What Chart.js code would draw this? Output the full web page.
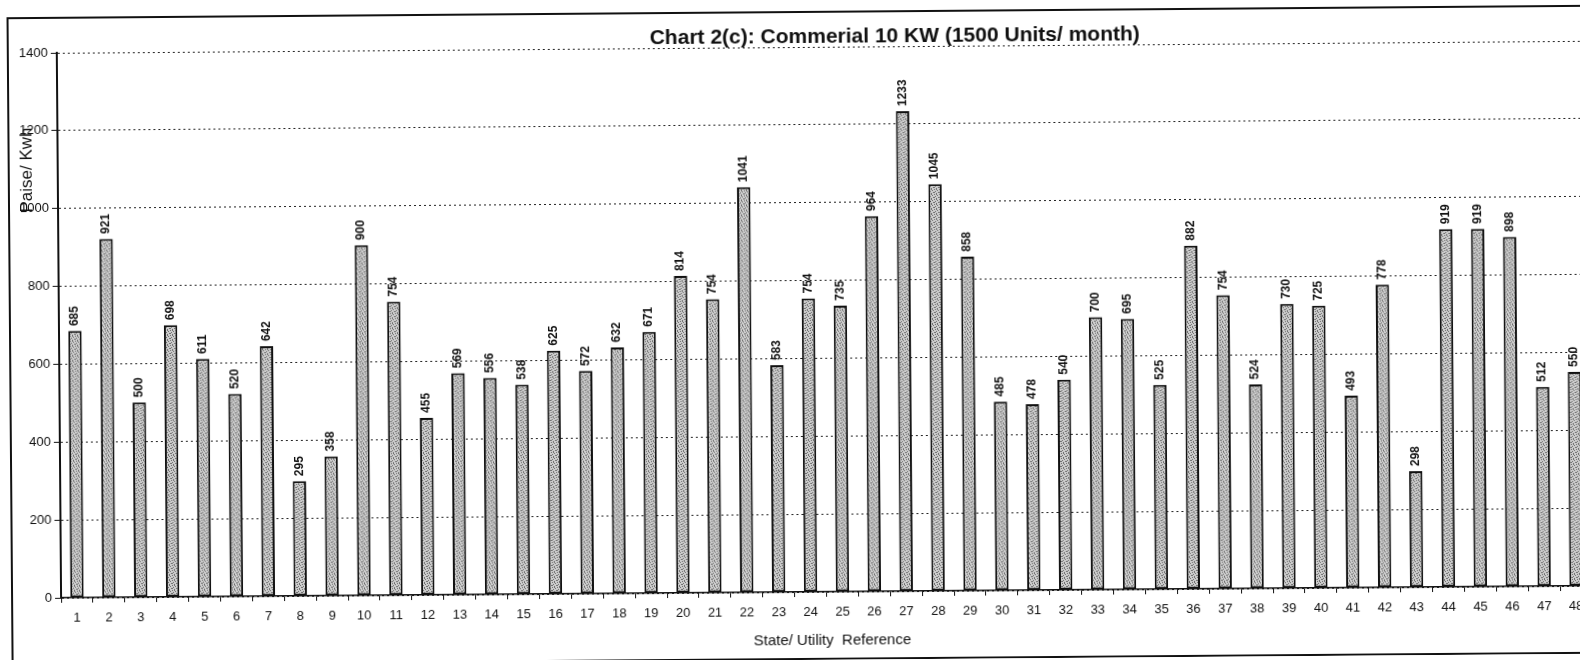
<!DOCTYPE html>
<html lang="en">
<head>
<meta charset="UTF-8">
<title>Chart 2(c): Commerial 10 KW</title>
<style>
html, body { margin:0; padding:0; background:#fff; overflow:hidden; }
/* the scan is slightly tilted */
#wrap { width:1600px; height:660px; transform: rotate(-0.45deg); transform-origin: 800px 330px; }
</style>
</head>
<body>
<div id="wrap"><canvas id="chart" width="1600" height="660"></canvas></div>

<script src="https://cdn.jsdelivr.net/npm/chart.js"></script>
<script>
// data
const refs = ['1','2','3','4','5','6','7','8','9','10','11','12','13','14','15','16',
  '17','18','19','20','21','22','23','24','25','26','27','28','29','30','31','32',
  '33','34','35','36','37','38','39','40','41','42','43','44','45','46','47','48'];
const paise = [685, 921, 500, 698, 611, 520, 642, 295, 358, 900, 754, 455, 569, 556, 538, 625,
  572, 632, 671, 814, 754, 1041, 583, 754, 735, 964, 1233, 1045, 858, 485, 478, 540,
  700, 695, 525, 882, 754, 524, 730, 725, 493, 778, 298, 919, 919, 898, 512, 550];
const yTicks = [0, 200, 400, 600, 800, 1000, 1200, 1400];

const chartTitle = 'Chart 2(c): Commerial 10 KW (1500 Units/ month)';
const xTitle = 'State/ Utility  Reference';
const yTitle = 'Paise/ Kwh';

const FONT = '"Liberation Sans", Arial, sans-serif';
const ink = '#111';

// dotted grey fill like the printed bars
function stipple(ctx) {
  const c = document.createElement('canvas');
  c.width = 5; c.height = 5;
  const g = c.getContext('2d');
  g.fillStyle = '#cdcdcd';
  g.fillRect(0, 0, 5, 5);
  g.fillStyle = '#6f6f6f';
  [[0, 0], [3, 1], [1, 2], [4, 3], [2, 4], [2, 0], [0, 3]].forEach(p => g.fillRect(p[0], p[1], 1, 1));
  return ctx.createPattern(c, 'repeat');
}

// frame, titles and the value labels
const decor = {
  id: 'decor',
  beforeDraw(chart) {
    const ctx = chart.ctx;
    ctx.save();
    ctx.strokeStyle = ink;
    ctx.lineWidth = 2;
    ctx.beginPath();
    ctx.moveTo(10, 660); ctx.lineTo(10, 12); ctx.lineTo(1600, 12);
    ctx.moveTo(10, 659); ctx.lineTo(1600, 659);
    ctx.stroke();
    ctx.restore();
  },
  afterDatasetsDraw(chart) {
    const ctx = chart.ctx;
    const meta = chart.getDatasetMeta(0);
    ctx.save();
    ctx.fillStyle = ink;
    ctx.font = 'bold 12px ' + FONT;
    ctx.textAlign = 'left';
    ctx.textBaseline = 'middle';
    meta.data.forEach((bar, i) => {
      ctx.save();
      ctx.translate(bar.x, bar.y - 5);
      ctx.rotate(-Math.PI / 2);
      ctx.fillText(String(paise[i]), 0, 0);
      ctx.restore();
    });
    ctx.restore();
  },
  afterDraw(chart) {
    const ctx = chart.ctx;
    ctx.save();
    ctx.fillStyle = ink;
    ctx.textAlign = 'center';
    ctx.textBaseline = 'middle';
    ctx.font = 'bold 21px ' + FONT;
    ctx.fillText(chartTitle, 897, 37);
    ctx.font = '15px ' + FONT;
    ctx.fillText(xTitle, 830, 641);
    ctx.translate(28, 164);
    ctx.rotate(-Math.PI / 2);
    ctx.font = '17px ' + FONT;
    ctx.fillText(yTitle, 0, 0);
    ctx.restore();
  }
};

const ctx = document.getElementById('chart').getContext('2d');
new Chart(ctx, {
  type: 'bar',
  data: {
    labels: refs,
    datasets: [{
      data: paise,
      backgroundColor: stipple(ctx),
      borderColor: ink,
      borderWidth: 2,
      borderSkipped: false,
      barPercentage: 0.42,
      categoryPercentage: 1
    }]
  },
  options: {
    responsive: false,
    animation: false,
    layout: { padding: { top: 47, right: 10, left: 0, bottom: 0 } },
    plugins: { legend: { display: false }, tooltip: { enabled: false }, title: { display: false } },
    scales: {
      x: {
        afterFit: s => { s.height = 68; },
        grid: { display: true, drawOnChartArea: false, offset: true, tickLength: 5, tickColor: ink, tickWidth: 1 },
        border: { display: true, color: ink, width: 1.5 },
        ticks: { color: ink, font: { family: FONT, size: 13 }, padding: 8, maxRotation: 0, autoSkip: false }
      },
      y: {
        min: 0,
        max: 1400,
        afterFit: s => { s.width = 59; },
        afterBuildTicks: s => { s.ticks = yTicks.map(v => ({ value: v })); },
        grid: { color: '#222', lineWidth: 1, tickLength: 6, tickColor: ink },
        border: { display: true, color: ink, width: 2, dash: [2, 3] },
        ticks: { color: ink, font: { family: FONT, size: 13 }, padding: 3, callback: v => String(v) }
      }
    }
  },
  plugins: [decor]
});
</script>
</body>
</html>
